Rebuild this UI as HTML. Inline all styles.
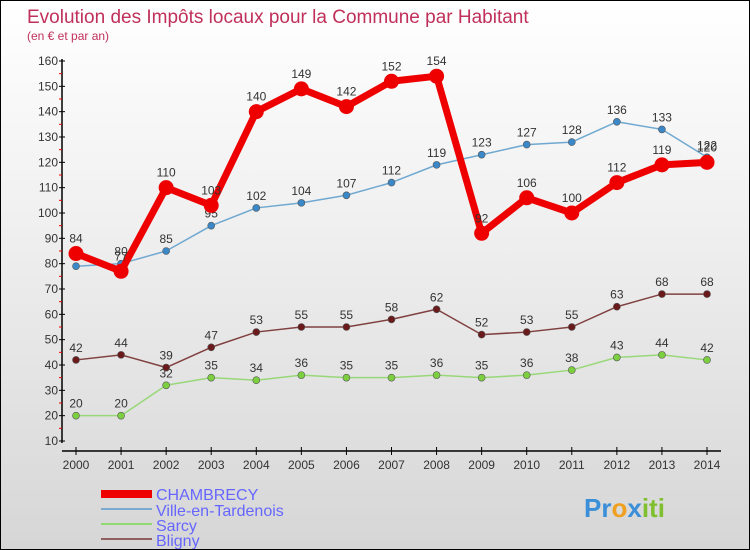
<!DOCTYPE html>
<html><head><meta charset="utf-8"><style>
body{margin:0}
#c{position:relative;width:750px;height:550px;box-sizing:border-box;border:1px solid #000;background:linear-gradient(#fff 0%,#f0f0f0 40%,#d6d6d6 100%);font-family:"Liberation Sans",sans-serif;overflow:hidden}
</style></head><body>
<div id="c">
<svg id="s" width="750" height="550" style="position:absolute;left:0;top:0">
<text x="26" y="22" font-size="19" fill="#c0305a">Evolution des Impôts locaux pour la Commune par Habitant</text>
<text x="26" y="39" font-size="12" fill="#c0305a">(en € et par an)</text>
<g id="axes"></g><g id="series"></g>
<g>
<rect x="100" y="489" width="51" height="8" fill="#e00"/>
<text x="155" y="499" font-size="16" fill="#6666ff">CHAMBRECY</text>
<rect x="100" y="507" width="51" height="2" fill="#7aaad0"/>
<text x="155" y="515" font-size="16" fill="#6666ff">Ville-en-Tardenois</text>
<rect x="100" y="522" width="51" height="2" fill="#90d870"/>
<text x="155" y="530" font-size="16" fill="#6666ff">Sarcy</text>
<rect x="100" y="537" width="51" height="2" fill="#906060"/>
<text x="155" y="545" font-size="16" fill="#6666ff">Bligny</text>
</g>
<text x="583" y="516" font-size="26" font-weight="bold"><tspan fill="#3a8fd8">Pr</tspan><tspan fill="#f0a020">o</tspan><tspan fill="#3a8fd8">x</tspan><tspan fill="#80c030">iti</tspan></text>
</svg>
</div>
<script>
const years=[2000,2001,2002,2003,2004,2005,2006,2007,2008,2009,2010,2011,2012,2013,2014];
const chambrecy=[84,77,110,103,140,149,142,152,154,92,106,100,112,119,120];
const ville=[79,80,85,95,102,104,107,112,119,123,127,128,136,133,122];
const sarcy=[20,20,32,35,34,36,35,35,36,35,36,38,43,44,42];
const bligny=[42,44,39,47,53,55,55,58,62,52,53,55,63,68,68];
const yTicks=[10,20,30,40,50,60,70,80,90,100,110,120,130,140,150,160];
const NS="http://www.w3.org/2000/svg";
const xs=i=>75+i*(631/14);
const ys=v=>440-(v-10)*(380/150);
function mk(t,a,p){const e=document.createElementNS(NS,t);for(const k in a)e.setAttribute(k,a[k]);p.appendChild(e);return e;}
const ax=document.getElementById('axes');
let l=mk('line',{x1:61,y1:58,x2:61,y2:442,stroke:'#000','stroke-width':1.5},ax);


l=mk('line',{x1:61,y1:450,x2:720,y2:450,stroke:'#000','stroke-width':1.5},ax);


yTicks.forEach(v=>{
 mk('line',{x1:58,x2:64,y1:ys(v),y2:ys(v),stroke:'#000'},ax);
 if(v<160)mk('line',{x1:58,x2:61,y1:ys(v+5),y2:ys(v+5),stroke:'#e00'},ax);
 const t=mk('text',{x:57,y:ys(v)+4,'font-size':12,'text-anchor':'end',fill:'#333'},ax);
 t.textContent=v;
 
 
});
years.forEach((y,i)=>{
 mk('line',{x1:xs(i),x2:xs(i),y1:446,y2:454,stroke:'#000'},ax);
 const t=mk('text',{x:xs(i),y:468,'font-size':12,'text-anchor':'middle',fill:'#333'},ax);
 t.textContent=y;
 
 
});
const sg=document.getElementById('series');
function series(name,data,col,dot,w,r,lab){
 const g=mk('g',{},sg);
 
 
 const p=mk('polyline',{points:data.map((v,i)=>xs(i)+','+ys(v)).join(' '),fill:'none',stroke:col,'stroke-width':w,'stroke-linejoin':'round'},g);
 
 
 data.forEach((v,i)=>{
  const c=mk('circle',{cx:xs(i),cy:ys(v),r:r,fill:dot,stroke:'#555','stroke-width':r>5?0:0.6},g);
  
  
  const t=mk('text',{x:xs(i),y:ys(v)-8-(r>5?3:0),'font-size':12,'text-anchor':'middle',fill:'#333'},g);
  t.textContent=v;
  
  
 });
}
series('sarcy',sarcy,'#98d878','#7cd040',1.5,3.5);
series('bligny',bligny,'#804040','#6a1a1a',1.5,3.5);
series('ville',ville,'#6fa8d0','#3a88c8',1.5,3.5);
series('chambrecy',chambrecy,'#e00','#e00',7,7.5);
</script>
</body></html>
